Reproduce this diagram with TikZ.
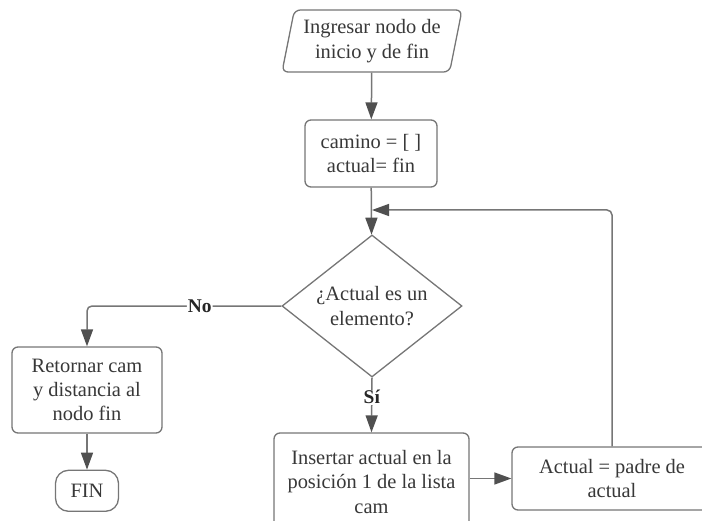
\documentclass[tikz,border=0pt]{standalone}
\usepackage{fontspec}
\setmainfont{Liberation Serif}
\usetikzlibrary{shapes.geometric,positioning,arrows.meta}
\definecolor{linegray}{HTML}{767676}
\definecolor{tipgray}{HTML}{505050}
\definecolor{textgray}{HTML}{383838}
\tikzset{
  >={Triangle[length=17bp,width=12bp,color=tipgray]},
}

\begin{document}
\begin{tikzpicture}[
  x=1bp, y=-1bp,
  font=\fontsize{20.5}{24.5}\selectfont,
  every node/.style={text=textgray, align=center},
  line/.style={draw=linegray, line width=1.5bp},
  proc/.style={draw=linegray, line width=1.3bp, rounded corners=6bp, fill=white, inner sep=2bp},
  io/.style={trapezium, trapezium left angle=76, trapezium right angle=104, trapezium stretches body,
    draw=linegray, line width=1.3bp, rounded corners=6bp, fill=white, minimum width=180bp, minimum height=62bp},
  decision/.style={diamond, draw=linegray, line width=1.3bp, fill=white, aspect=1.27,
    minimum width=180bp, minimum height=142bp, inner sep=0pt},
  term/.style={draw=linegray, line width=1.3bp, rounded corners=13bp, fill=white, minimum width=63bp, minimum height=41bp},
  lbl/.style={fill=white, font=\fontsize{19.5}{22}\selectfont\bfseries, text=black!85, inner sep=1bp}
]
\useasboundingbox (0,0) rectangle (702,521);
\clip (0,0) rectangle (702,521);

\node[io] (in) at (372,41) {Ingresar nodo de\\inicio y de fin};
\node[proc, minimum width=132bp, minimum height=67bp] (cam) at (371,153.5) {camino = [ ]\\actual= fin};
\node[decision] (dec) at (372,306) {¿Actual es un\\elemento?};
\node[proc, minimum width=150bp, minimum height=86bp] (ret) at (87,390) {Retornar cam\\y distancia al\\nodo fin};
\node[term, below=36bp of ret] (fin) {FIN};
\node[proc, minimum width=195bp, minimum height=98bp] (ins) at (371.5,482) {Insertar actual en la\\posición 1 de la lista\\cam};
\node[proc, minimum width=200bp, minimum height=63bp] (act) at (612,478.5) {Actual = padre de\\actual};
\coordinate (join) at (372,210);

\draw[line,->] (in) -- (cam);
\draw[line,->] (cam) -- (dec);
\draw[line,->,rounded corners=5bp] (act.north) |- (join);
\draw[line,->,rounded corners=5bp] (dec.west) -| node[lbl,pos=0.21] {No} (ret.north);
\draw[line,->] (dec.south) -- node[lbl,pos=0.36] {Sí} (ins.north);
\draw[line,->] (ret) -- (fin);
\draw[line,->] (ins.east |- act.west) -- (act.west);
\end{tikzpicture}
\end{document}
